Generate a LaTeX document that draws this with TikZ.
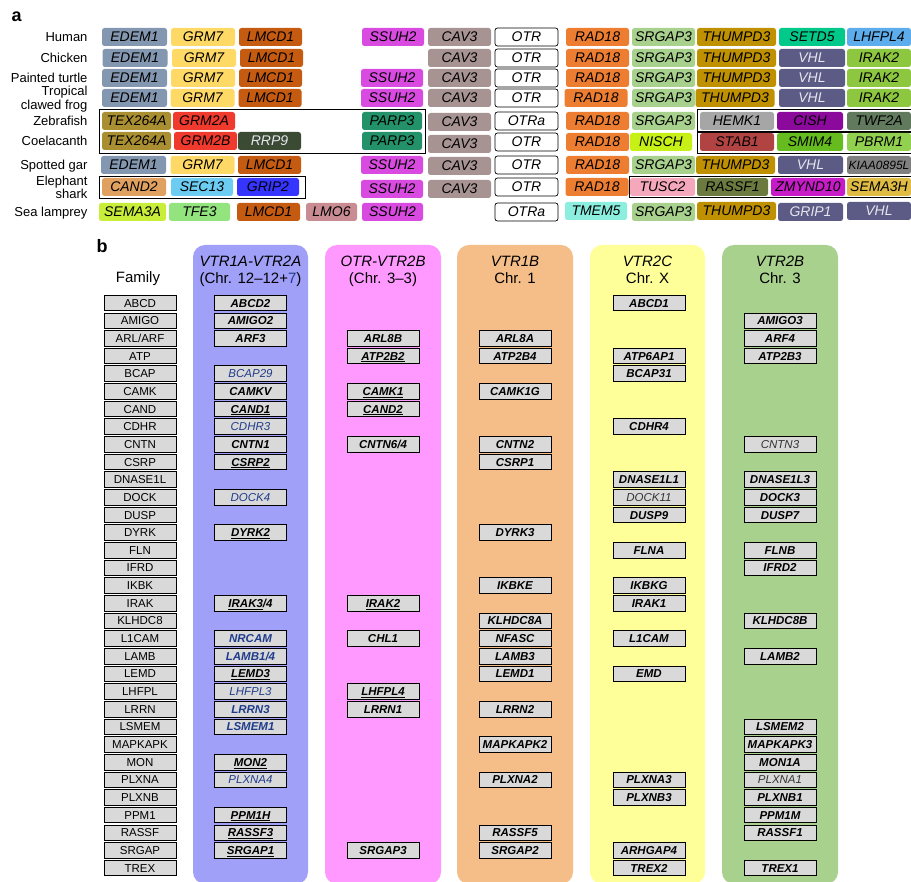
\documentclass[tikz,border=0pt]{standalone}
\usepackage{fontspec}
\setmainfont{Liberation Sans}
% colours of part a
\definecolor{edem}{HTML}{8497B0}
\definecolor{grm}{HTML}{FFD966}
\definecolor{lmcd}{HTML}{C55A11}
\definecolor{ssuh}{HTML}{D84AE0}
\definecolor{cav}{HTML}{A89393}
\definecolor{rad}{HTML}{ED7D31}
\definecolor{srgap}{HTML}{A9D18E}
\definecolor{thump}{HTML}{BF9000}
\definecolor{setd}{HTML}{00C98A}
\definecolor{lhfpl}{HTML}{5DADEC}
\definecolor{vhl}{HTML}{5B5B85}
\definecolor{irak}{HTML}{8DC63F}
\definecolor{tex}{HTML}{A98F32}
\definecolor{grmtwo}{HTML}{F03A2E}
\definecolor{parp}{HTML}{23916A}
\definecolor{rrp}{HTML}{3B4A33}
\definecolor{hemk}{HTML}{A6A6A6}
\definecolor{cish}{HTML}{8B0A9B}
\definecolor{twf}{HTML}{617A5E}
\definecolor{nisch}{HTML}{C7F017}
\definecolor{stab}{HTML}{B24343}
\definecolor{smim}{HTML}{66BB1F}
\definecolor{pbrm}{HTML}{92D050}
\definecolor{kiaa}{HTML}{808080}
\definecolor{cand}{HTML}{E0A060}
\definecolor{sec}{HTML}{6CCCF2}
\definecolor{grip}{HTML}{3535FF}
\definecolor{tusc}{HTML}{F5A8BC}
\definecolor{rassf}{HTML}{6B7B3F}
\definecolor{zmynd}{HTML}{C81BC8}
\definecolor{semah}{HTML}{E0BC45}
\definecolor{semaa}{HTML}{C8EE3A}
\definecolor{tfe}{HTML}{93E37F}
\definecolor{lmo}{HTML}{C98C92}
\definecolor{tmem}{HTML}{8BEEDF}
\definecolor{lighttxt}{HTML}{E6E6EE}
% colours of part b
\definecolor{pone}{HTML}{A0A0F8}
\definecolor{ptwo}{HTML}{FF99FF}
\definecolor{pthree}{HTML}{F5BE88}
\definecolor{pfour}{HTML}{FFFF99}
\definecolor{pfive}{HTML}{A9D18E}
\definecolor{boxgray}{HTML}{D9D9D9}
\definecolor{geneblue}{HTML}{1F3C8C}
\definecolor{genegray}{HTML}{333333}
\newcommand\uln[1]{\underline{#1}}
\newcommand\genebl[1]{{\color{geneblue}#1}}
\newcommand\genebr[1]{{\mdseries\color{geneblue}#1}}
\newcommand\genegr[1]{{\mdseries\color{genegray}#1}}
\begin{document}
\begin{tikzpicture}[x=1pt, y=-1pt,
    gene/.style={rounded corners=2.5pt, minimum height=18pt, inner sep=0pt, text height=10pt, text depth=0pt, font=\fontsize{14}{15}\selectfont\itshape},
    otr/.style={gene, draw=black, line width=0.7pt, fill=white, minimum width=63pt},
    frame/.style={draw=black, line width=0.7pt},
    species/.style={anchor=base east, font=\fontsize{13}{14}\selectfont},
    famgene/.style={draw=black, line width=0.8pt, fill=boxgray, minimum width=72pt, minimum height=15.5pt, inner sep=0pt, text height=8.2pt, text depth=0pt, font=\fontsize{11.5}{12}\selectfont\bfseries\itshape},
    fam/.style={famgene, font=\fontsize{11.5}{12}\selectfont},
    panel/.style={rounded corners=12pt},
    title/.style={anchor=base, font=\fontsize{15}{16}\selectfont}]
\useasboundingbox (0,0) rectangle (911,882);
%% part a
\node[anchor=base west, font=\fontsize{18}{18}\selectfont\bfseries] (lbla) at (8,22) {a};
\node[species] (sp1) at (91,41.7) {Human};
\node[species] (sp2) at (91,62.7) {Chicken};
\node[species] (sp3) at (91,82.7) {Painted turtle};
\node[anchor=east, align=right, font=\fontsize{13}{14}\selectfont] (sp4) at (91,99) {Tropical\\clawed frog};
\node[species] (sp5) at (91,125.7) {Zebrafish};
\node[species] (sp6) at (91,145.7) {Coelacanth};
\node[species] (sp7) at (91,169.7) {Spotted gar};
\node[anchor=east, align=right, font=\fontsize{13}{13.5}\selectfont] (sp8) at (91,187.5) {Elephant\\shark};
\node[species] (sp9) at (91,216.7) {Sea lamprey};
% frames round the rearranged blocks
\draw[frame] (99,109) rectangle (425.5,153);
\draw[frame] (697,109) rectangle (913,131);
\draw[frame] (697,132.5) rectangle (913,153);
\draw[frame] (99,176.5) rectangle (305,198.5);
\draw[frame] (629,176.5) rectangle (913,197);
% genes: x/y/width/colour/label
\foreach \x/\y/\w/\c/\t [count=\i] in {
    134.5/37/65/edem/EDEM1, 203/37/64/grm/GRM7, 270.5/37/63/lmcd/LMCD1, 393/37/62/ssuh/SSUH2,
    459.5/37/63/cav/CAV3, 597.5/37/63/rad/RAD18, 663.5/37/63/srgap/SRGAP3, 736.5/37/79/thump/THUMPD3,
    812/37/66/setd/SETD5, 879/37/64/lhfpl/LHFPL4,
    135/58/65/edem/EDEM1, 204/58/64/grm/GRM7, 271.5/58/63/lmcd/LMCD1,
    459.5/58/63/cav/CAV3, 597.5/58/63/rad/RAD18, 663.5/58/63/srgap/SRGAP3, 736.5/58/79/thump/THUMPD3,
    812/58/66/vhl/{\color{lighttxt}VHL}, 879/58/64/irak/IRAK2,
    134.5/78/65/edem/EDEM1, 203/78/64/grm/GRM7, 270.5/78/63/lmcd/LMCD1, 392/78/62/ssuh/SSUH2,
    459.5/78/63/cav/CAV3, 597.5/78/63/rad/RAD18, 663.5/78/63/srgap/SRGAP3, 736.5/78/79/thump/THUMPD3,
    812/78/66/vhl/{\color{lighttxt}VHL}, 879/78/64/irak/IRAK2,
    134.5/98/65/edem/EDEM1, 202.5/98/64/grm/GRM7, 270/98/63/lmcd/LMCD1, 392/98/62/ssuh/SSUH2,
    459.5/98/63/cav/CAV3, 596/98/63/rad/RAD18, 663.5/98/63/srgap/SRGAP3, 735/98/79/thump/THUMPD3,
    812/98/66/vhl/{\color{lighttxt}VHL}, 879/98/64/irak/IRAK2,
    136.5/121/69/tex/TEX264A, 204/121/62/grmtwo/GRM2A, 392/121/60/parp/PARP3,
    459.5/122/63/cav/CAV3, 597.5/121/63/rad/RAD18, 663.5/121/63/srgap/SRGAP3,
    737/121/74/hemk/HEMK1, 810/121/66/cish/CISH, 879/121/64/twf/TWF2A,
    136.5/141/69/tex/TEX264A, 205.5/141/63/grmtwo/GRM2B, 269.5/141/63/rrp/{\color{lighttxt}RRP9}, 392/141/60/parp/PARP3,
    459.5/144/63/cav/CAV3, 597.5/142/63/rad/RAD18, 661/142/62/nisch/NISCH,
    737/142/74/stab/STAB1, 810/142/66/smim/SMIM4, 879/142/64/pbrm/PBRM1,
    133.5/165/65/edem/EDEM1, 202.5/165/64/grm/GRM7, 269.5/165/63/lmcd/LMCD1, 392/165/62/ssuh/SSUH2,
    459.5/166/63/cav/CAV3, 597.5/165/63/rad/RAD18, 663.5/165/63/srgap/SRGAP3, 735.5/165/79/thump/THUMPD3,
    810.5/165/65/vhl/{\color{lighttxt}VHL}, 879/165/64/kiaa/{\fontsize{12}{12}\selectfont KIAA0895L},
    134/187/64/cand/CAND2, 202/187/62/sec/SEC13, 268/187/62/grip/GRIP2, 392/189/62/ssuh/SSUH2,
    459.5/189/63/cav/CAV3, 597/187/63/rad/RAD18, 662.5/187/65/tusc/TUSC2, 732.5/187/71/rassf/RASSF1,
    808/187/74/zmynd/ZMYND10, 879/187/64/semah/SEMA3H,
    132.5/212/67/semaa/SEMA3A, 199.5/212/61/tfe/TFE3, 268.5/212/63/lmcd/LMCD1, 331.5/212/51/lmo/LMO6,
    392.5/212/61/ssuh/SSUH2, 596/211/62/tmem/TMEM5, 663.5/212/63/srgap/SRGAP3, 736.5/211/79/thump/THUMPD3,
    810.5/212/65/vhl/{\color{lighttxt}GRIP1}, 879/211/64/vhl/{\color{lighttxt}VHL}}
    \node[gene, fill=\c, minimum width=\w pt] (g\i) at (\x,\y) {\t};
\foreach \y/\t in {37/OTR, 58/OTR, 78/OTR, 98/OTR, 121/OTRa, 142/OTR, 165/OTR, 187/OTR, 212/OTRa}
    \node[otr] (otr\y) at (526.5,\y) {\t};
%% part b
\node[anchor=base west, font=\fontsize{18}{18}\selectfont\bfseries] (lblb) at (93,253) {b};
\fill[panel, pone] (193,245) rectangle (308,884);
\fill[panel, ptwo] (325,245) rectangle (441,884);
\fill[panel, pthree] (457,245) rectangle (573,884);
\fill[panel, pfour] (590,245) rectangle (705,884);
\fill[panel, pfive] (722,245) rectangle (838,884);
\node[title] (famt) at (138,283) {Family};
\node[title, font=\fontsize{15}{16}\selectfont\itshape] (t1a) at (250.5,267) {VTR1A-VTR2A};
\node[title] (t1b) at (250.5,283.5) {(Chr. 12\textendash12+{\color{geneblue}7})};
\node[title, font=\fontsize{15}{16}\selectfont\itshape] (t2a) at (383,267) {OTR-VTR2B};
\node[title] (t2b) at (383,283.5) {(Chr. 3\textendash3)};
\node[title, font=\fontsize{15}{16}\selectfont\itshape] (t3a) at (515,267) {VTR1B};
\node[title] (t3b) at (515,283.5) {Chr. 1};
\node[title, font=\fontsize{15}{16}\selectfont\itshape] (t4a) at (647.5,267) {VTR2C};
\node[title] (t4b) at (647.5,283.5) {Chr. X};
\node[title, font=\fontsize{15}{16}\selectfont\itshape] (t5a) at (780,267) {VTR2B};
\node[title] (t5b) at (780,283.5) {Chr. 3};
% gene families, one row each
\foreach \f [count=\r from 0] in {ABCD, AMIGO, {ARL/ARF}, ATP, BCAP, CAMK, CAND, CDHR, CNTN, CSRP,
    DNASE1L, DOCK, DUSP, DYRK, FLN, IFRD, IKBK, IRAK, KLHDC8, L1CAM, LAMB, LEMD, LHFPL, LRRN,
    LSMEM, MAPKAPK, MON, PLXNA, PLXNB, PPM1, RASSF, SRGAP, TREX}
    \node[fam] (f\r) at (140,{303+17.66*\r}) {\f};
% VTR1A-VTR2A
\foreach \r/\t in {0/ABCD2, 1/AMIGO2, 2/ARF3, 4/\genebr{BCAP29}, 5/CAMKV, 6/\uln{CAND1}, 7/\genebr{CDHR3},
    8/CNTN1, 9/\uln{CSRP2}, 11/\genebr{DOCK4}, 13/\uln{DYRK2}, 17/{\uln{IRAK3}/4}, 19/\genebl{NRCAM},
    20/\genebl{LAMB1/4}, 21/\uln{LEMD3}, 22/\genebr{LHFPL3}, 23/\genebl{LRRN3}, 24/\genebl{LSMEM1},
    26/\uln{MON2}, 27/\genebr{PLXNA4}, 29/\uln{PPM1H}, 30/\uln{RASSF3}, 31/\uln{SRGAP1}}
    \node[famgene] (va\r) at (250.5,{303+17.66*\r}) {\t};
% OTR-VTR2B
\foreach \r/\t in {2/ARL8B, 3/\uln{ATP2B2}, 5/\uln{CAMK1}, 6/\uln{CAND2}, 8/{CNTN6/4}, 17/\uln{IRAK2},
    19/CHL1, 22/\uln{LHFPL4}, 23/LRRN1, 31/SRGAP3}
    \node[famgene] (ob\r) at (383,{303+17.66*\r}) {\t};
% VTR1B
\foreach \r/\t in {2/ARL8A, 3/ATP2B4, 5/CAMK1G, 8/CNTN2, 9/CSRP1, 13/DYRK3, 16/IKBKE, 18/KLHDC8A,
    19/NFASC, 20/LAMB3, 21/LEMD1, 23/LRRN2, 25/MAPKAPK2, 27/PLXNA2, 30/RASSF5, 31/SRGAP2}
    \node[famgene] (vb\r) at (515,{303+17.66*\r}) {\t};
% VTR2C
\foreach \r/\t in {0/ABCD1, 3/ATP6AP1, 4/BCAP31, 7/CDHR4, 10/DNASE1L1, 11/\genegr{DOCK11}, 12/DUSP9,
    14/FLNA, 16/IKBKG, 17/IRAK1, 19/L1CAM, 21/EMD, 27/PLXNA3, 28/PLXNB3, 31/ARHGAP4, 32/TREX2}
    \node[famgene] (vc\r) at (649,{303+17.66*\r}) {\t};
% VTR2B
\foreach \r/\t in {1/AMIGO3, 2/ARF4, 3/ATP2B3, 8/\genegr{CNTN3}, 10/DNASE1L3, 11/DOCK3, 12/DUSP7,
    14/FLNB, 15/IFRD2, 18/KLHDC8B, 20/LAMB2, 24/LSMEM2, 25/MAPKAPK3, 26/MON1A, 27/\genegr{PLXNA1},
    28/PLXNB1, 29/PPM1M, 30/RASSF1, 32/TREX1}
    \node[famgene] (vd\r) at (780,{303+17.66*\r}) {\t};
\end{tikzpicture}
\end{document}
